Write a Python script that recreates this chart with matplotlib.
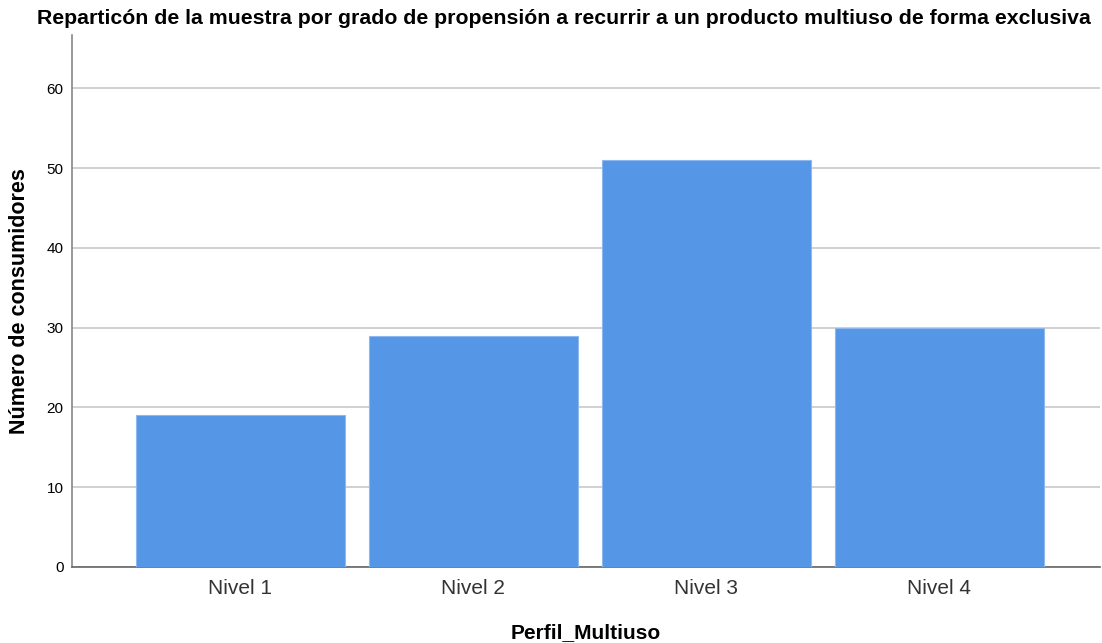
import matplotlib.pyplot as plt

categorias = ["Nivel 1", "Nivel 2", "Nivel 3", "Nivel 4"]
consumidores = [19, 29, 51, 30]

plt.rcParams["font.family"] = ["Liberation Sans", "DejaVu Sans"]

fig = plt.figure(figsize=(11.02, 6.43), dpi=100)
ax = fig.add_axes([72 / 1102, 76 / 643, 1028 / 1102, 532 / 643])

x = range(len(categorias))
ax.bar(x, consumidores, width=0.897, color="#5596E6", edgecolor="#8fb8ee",
       linewidth=0.8, zorder=3)

ax.set_xlim(-0.723, 3.69)
ax.set_ylim(0, 66.7)
ax.set_yticks(range(0, 61, 10))
ax.set_xticks(list(x))
ax.set_xticklabels(categorias, fontsize=15, color="#333333")
ax.tick_params(axis="y", labelsize=11, length=0, pad=6)
ax.tick_params(axis="x", length=0, pad=9)
ax.grid(axis="y", color="#c8c8c8", linewidth=1.2, zorder=0)

for s in ["top", "right"]:
    ax.spines[s].set_visible(False)
ax.spines["left"].set_color("#888888")
ax.spines["bottom"].set_color("#666666")
ax.spines["left"].set_linewidth(1.2)
ax.spines["bottom"].set_linewidth(1.2)

ax.set_ylabel("Número de consumidores", fontsize=15.5, fontweight="bold", labelpad=12)
ax.set_xlabel("Perfil_Multiuso", fontsize=15, fontweight="bold", labelpad=18)
fig.text(0.5115, 0.971, "Reparticón de la muestra por grado de propensión a recurrir a un producto multiuso de forma exclusiva",
         ha="center", va="center", fontsize=15.35, fontweight="bold")

fig.savefig("out.png", dpi=100)
